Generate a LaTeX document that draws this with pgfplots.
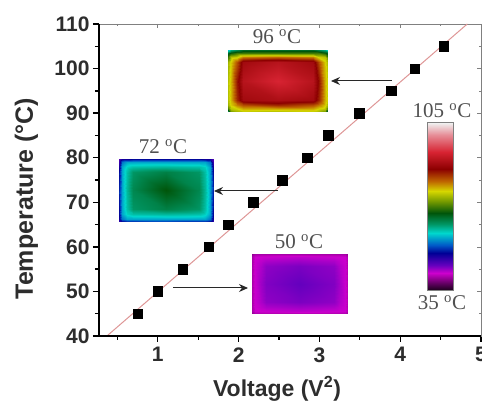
\documentclass[border=0pt]{standalone}
\usepackage{pgfplots}
\pgfplotsset{compat=1.18}
\usepackage{fontspec}
\setmainfont{Liberation Sans}
\newfontfamily\serifnote{Liberation Serif}
\usetikzlibrary{arrows.meta}
\definecolor{txt}{RGB}{45,45,45}
\definecolor{notec}{RGB}{80,80,80}
\pgfplotsset{
 colormap={thermal}{
  rgb255(35pt)=(20,0,20);
  rgb255(38pt)=(90,0,90);
  rgb255(42.4pt)=(205,0,205);
  rgb255(46pt)=(100,0,190);
  rgb255(50.7pt)=(0,0,150);
  rgb255(54pt)=(0,90,200);
  rgb255(59pt)=(0,215,205);
  rgb255(63pt)=(0,150,100);
  rgb255(67.4pt)=(0,85,10);
  rgb255(72pt)=(110,150,0);
  rgb255(76.5pt)=(215,215,0);
  rgb255(81pt)=(190,100,0);
  rgb255(86pt)=(140,0,0);
  rgb255(93pt)=(215,35,50);
  rgb255(100pt)=(230,140,150);
  rgb255(105pt)=(240,240,240)},
 heat/.style={hide axis,scale only axis,anchor=south west,view={0}{90},
  xmin=0,xmax=1,ymin=0,ymax=1,point meta min=35,point meta max=105,colormap name=thermal},
 heatplot/.style={surf,shader=interp,mesh/cols=9,point meta=z}
}
\begin{document}
\begin{tikzpicture}
\path[use as bounding box] (-99pt,-67pt) rectangle (383pt,336pt);
\clip (-99pt,-67pt) rectangle (383pt,336pt);
\begin{axis}[
 at={(0pt,0pt)},anchor=south west,scale only axis,width=382pt,height=312pt,
 xmin=0.272,xmax=5,ymin=40,ymax=110,
 xtick={1,2,3,4,5},minor xtick={0.5,1.5,2.5,3.5,4.5},
 ytick={40,50,...,110},minor ytick={45,55,...,105},
 xtick pos=bottom,ytick pos=left,tick align=outside,
 major tick length=6pt,minor tick length=4pt,
 tick style={line width=1.3pt,black},
 axis line style={draw=gray,line width=0.7pt},
 ticklabel style={font=\fontsize{21}{23}\selectfont\bfseries,text=txt},
 /pgf/number format/assume math mode=true,
 xticklabel style={yshift=-2pt},
 xlabel={Voltage (V\textsuperscript{2})},
 ylabel={Temperature (°C)},
 xlabel style={font=\fontsize{23}{26}\selectfont\bfseries,text=txt,at={(axis description cs:0.466,0)},anchor=base,yshift=-61pt},
 ylabel style={font=\fontsize{25}{28}\selectfont\bfseries,text=txt,at={(axis description cs:0,0.44)},anchor=base,yshift=66pt},
]
\addplot[draw={rgb,255:red,222;green,150;blue,150},line width=1pt] coordinates {(0.37,40) (4.83,110)};
\addplot[only marks,mark=square*,mark size=4.8pt,mark options={fill=black,draw=black}] coordinates {
 (0.75,45) (1,50) (1.31,55) (1.63,60) (1.87,65) (2.18,70) (2.54,75) (2.85,80)
 (3.11,85) (3.49,90) (3.89,95) (4.18,100) (4.54,105)};
\end{axis}
\begin{axis}[
 at={(0pt,0pt)},anchor=south west,scale only axis,width=382pt,height=312pt,
 xmin=0.272,xmax=5,ymin=40,ymax=110,
 xtick={1,2,3,4,5},minor xtick={0.5,1.5,2.5,3.5,4.5},
 ytick={40,50,...,110},minor ytick={45,55,...,105},
 xtick pos=top,ytick pos=right,tick align=inside,
 major tick length=4pt,minor tick length=2.5pt,
 tick style={line width=0.7pt,gray},
 axis line style={draw=none},
 xticklabels={},yticklabels={},
]
\end{axis}
\draw[line width=1.6pt,black] (0,312pt) -- (0,0) -- (382pt,0);
% 96 C thermal image
\begin{axis}[heat,at={(129pt,224pt)},width=100pt,height=62pt]
\addplot3[heatplot] coordinates {
(0,0,62) (.03,0,72) (.09,0,74) (.15,0,75) (.5,0,74) (.85,0,75) (.91,0,74) (.97,0,72) (1,0,62)
(0,.05,70) (.03,.05,75) (.09,.05,76) (.15,.05,78) (.5,.05,78) (.85,.05,78) (.91,.05,76) (.97,.05,75) (1,.05,70)
(0,.12,74) (.03,.12,77) (.09,.12,80) (.15,.12,82) (.5,.12,84) (.85,.12,82) (.91,.12,80) (.97,.12,77) (1,.12,74)
(0,.2,75) (.03,.2,78) (.09,.2,84) (.15,.2,88) (.5,.2,89) (.85,.2,88) (.91,.2,84) (.97,.2,78) (1,.2,75)
(0,.5,75) (.03,.5,78) (.09,.5,85) (.15,.5,90) (.5,.5,93) (.85,.5,90) (.91,.5,85) (.97,.5,78) (1,.5,75)
(0,.8,74) (.03,.8,77) (.09,.8,82) (.15,.8,88) (.5,.8,90) (.85,.8,88) (.91,.8,82) (.97,.8,77) (1,.8,74)
(0,.88,70) (.03,.88,75) (.09,.88,76) (.15,.88,80) (.5,.88,81) (.85,.88,80) (.91,.88,76) (.97,.88,75) (1,.88,70)
(0,.95,66) (.03,.95,68) (.09,.95,70) (.15,.95,70) (.5,.95,70) (.85,.95,70) (.91,.95,70) (.97,.95,68) (1,.95,66)
(0,1,58) (.03,1,62) (.09,1,64) (.15,1,66) (.5,1,66) (.85,1,66) (.91,1,64) (.97,1,62) (1,1,58)
};
\end{axis}
% 72 C thermal image
\begin{axis}[heat,at={(20pt,114pt)},width=94pt,height=63pt]
\addplot3[heatplot] coordinates {
(0,0,48) (.03,0,50) (.09,0,51) (.15,0,51) (.5,0,52) (.85,0,51) (.91,0,51) (.97,0,50) (1,0,48)
(0,.05,50) (.03,.05,55) (.09,.05,57) (.15,.05,57) (.5,.05,57) (.85,.05,57) (.91,.05,57) (.97,.05,55) (1,.05,50)
(0,.12,51) (.03,.12,57) (.09,.12,59.5) (.15,.12,60.5) (.5,.12,61) (.85,.12,60.5) (.91,.12,59.5) (.97,.12,57) (1,.12,51)
(0,.2,51) (.03,.2,57) (.09,.2,60.5) (.15,.2,63) (.5,.2,64.5) (.85,.2,63) (.91,.2,60.5) (.97,.2,57) (1,.2,51)
(0,.5,52) (.03,.5,57) (.09,.5,61) (.15,.5,64) (.5,.5,67.4) (.85,.5,64) (.91,.5,61) (.97,.5,57) (1,.5,52)
(0,.8,51) (.03,.8,57) (.09,.8,60.5) (.15,.8,63) (.5,.8,64.5) (.85,.8,63) (.91,.8,60.5) (.97,.8,57) (1,.8,51)
(0,.88,50) (.03,.88,57) (.09,.88,59.5) (.15,.88,60.5) (.5,.88,61) (.85,.88,60.5) (.91,.88,59.5) (.97,.88,57) (1,.88,50)
(0,.95,48) (.03,.95,55) (.09,.95,57) (.15,.95,57) (.5,.95,57) (.85,.95,57) (.91,.95,57) (.97,.95,55) (1,.95,48)
(0,1,47) (.03,1,50) (.09,1,50) (.15,1,51) (.5,1,51) (.85,1,51) (.91,1,50) (.97,1,50) (1,1,47)
};
\end{axis}
% 50 C thermal image
\begin{axis}[heat,at={(153pt,22pt)},width=96pt,height=60pt]
\addplot3[heatplot] coordinates {
(0,0,40) (.03,0,41) (.09,0,41) (.15,0,41) (.5,0,41) (.85,0,41) (.91,0,41) (.97,0,41) (1,0,40)
(0,.05,41) (.03,.05,42.4) (.09,.05,42.5) (.15,.05,42.6) (.5,.05,43) (.85,.05,42.6) (.91,.05,42.5) (.97,.05,42.4) (1,.05,41)
(0,.12,41) (.03,.12,42.5) (.09,.12,43) (.15,.12,43.5) (.5,.12,44) (.85,.12,43.5) (.91,.12,43) (.97,.12,42.5) (1,.12,41)
(0,.2,41) (.03,.2,42.6) (.09,.2,43.5) (.15,.2,44.5) (.5,.2,45.2) (.85,.2,44.5) (.91,.2,43.5) (.97,.2,42.6) (1,.2,41)
(0,.5,41) (.03,.5,42.6) (.09,.5,44) (.15,.5,45) (.5,.5,46) (.85,.5,45) (.91,.5,44) (.97,.5,42.6) (1,.5,41)
(0,.8,41) (.03,.8,42.6) (.09,.8,43.5) (.15,.8,44.5) (.5,.8,45.2) (.85,.8,44.5) (.91,.8,43.5) (.97,.8,42.6) (1,.8,41)
(0,.88,41) (.03,.88,42.5) (.09,.88,43) (.15,.88,43.5) (.5,.88,44) (.85,.88,43.5) (.91,.88,43) (.97,.88,42.5) (1,.88,41)
(0,.95,41) (.03,.95,42.4) (.09,.95,42.5) (.15,.95,42.6) (.5,.95,43) (.85,.95,42.6) (.91,.95,42.5) (.97,.95,42.4) (1,.95,41)
(0,1,40) (.03,1,41) (.09,1,41) (.15,1,41) (.5,1,41) (.85,1,41) (.91,1,41) (.97,1,41) (1,1,40)
};
\end{axis}
% colour scale
\begin{axis}[heat,at={(328pt,45pt)},width=26pt,height=168pt,ymin=35,ymax=105]
\addplot3[surf,shader=interp,mesh/cols=2,point meta=z] coordinates {
(0,35,35) (1,35,35)
(0,38,38) (1,38,38)
(0,42.4,42.4) (1,42.4,42.4)
(0,46,46) (1,46,46)
(0,50.7,50.7) (1,50.7,50.7)
(0,54,54) (1,54,54)
(0,59,59) (1,59,59)
(0,63,63) (1,63,63)
(0,67.4,67.4) (1,67.4,67.4)
(0,72,72) (1,72,72)
(0,76.5,76.5) (1,76.5,76.5)
(0,81,81) (1,81,81)
(0,86,86) (1,86,86)
(0,93,93) (1,93,93)
(0,100,100) (1,100,100)
(0,105,105) (1,105,105)
};
\end{axis}
\draw[gray,line width=1pt] (328pt,45pt) rectangle (354pt,213pt);
% arrows
\begin{scope}[line width=1pt,draw={rgb,255:red,40;green,40;blue,40},-{Stealth[length=9pt,width=8pt]}]
\draw (293pt,255pt) -- (232pt,255pt);
\draw (179pt,145pt) -- (115pt,145pt);
\draw (74pt,48pt) -- (149pt,48pt);
\end{scope}
% notes
\begin{scope}[every node/.style={anchor=base,text=notec,font=\serifnote\fontsize{21}{23}\selectfont,inner sep=0pt}]
\node at (178pt,292pt) {96 \textsuperscript{o}C};
\node at (64pt,182pt) {72 \textsuperscript{o}C};
\node at (200pt,87pt) {50 \textsuperscript{o}C};
\node at (343pt,218pt) {105 \textsuperscript{o}C};
\node at (343pt,26pt) {35 \textsuperscript{o}C};
\end{scope}
\end{tikzpicture}
\end{document}
